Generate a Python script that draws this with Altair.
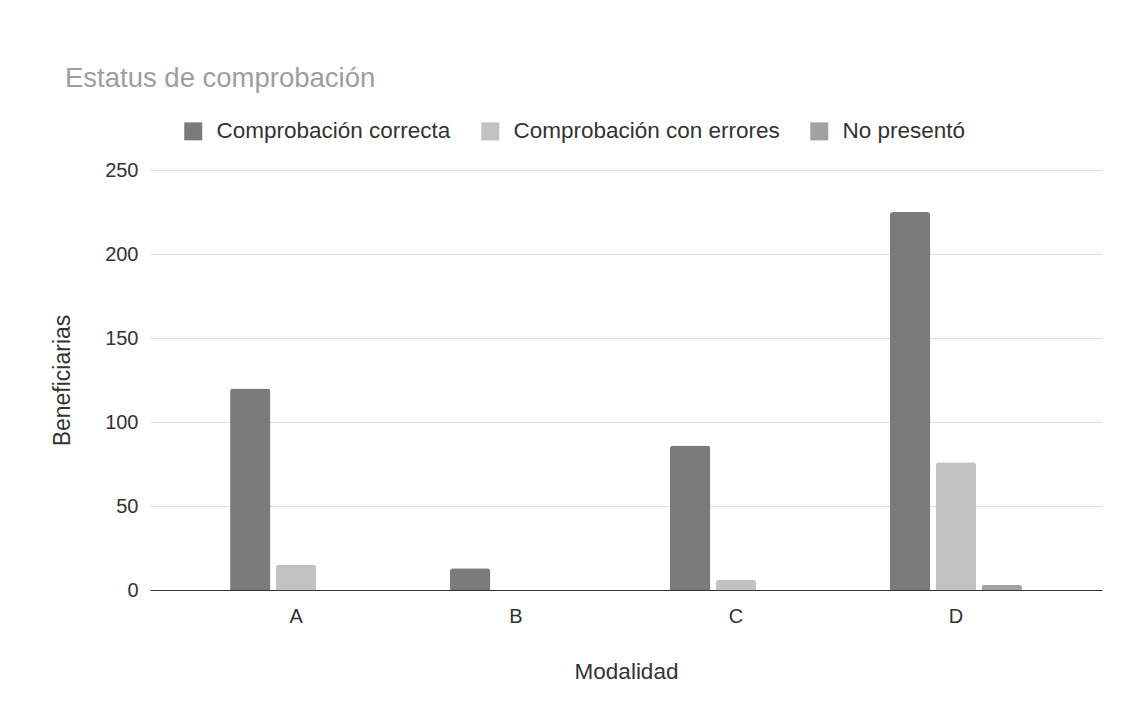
import altair as alt
import pandas as pd

categories = ["A", "B", "C", "D"]
series = ["Comprobación correcta", "Comprobación con errores", "No presentó"]
correcta = [120, 13, 86, 225]
errores = [15, 0, 6, 76]
no_presento = [0, 0, 0, 3]
colors = ["#7b7b7b", "#c2c2c2", "#a2a2a2"]
y_ticks = [0, 50, 100, 150, 200, 250]

rows = []
for i, c in enumerate(categories):
    for s, vals in zip(series, [correcta, errores, no_presento]):
        rows.append({"Modalidad": c, "Serie": s, "Beneficiarias": vals[i]})
df = pd.DataFrame(rows)

FONT = "Liberation Sans"

chart = alt.Chart(df).mark_bar(
    cornerRadiusTopLeft=3, cornerRadiusTopRight=3
).encode(
    x=alt.X("Modalidad:N", sort=categories,
            scale=alt.Scale(paddingInner=0.4, paddingOuter=0.364),
            axis=alt.Axis(title="Modalidad", labelAngle=0, ticks=False,
                          domainColor="#333333", domainWidth=1.2,
                          labelFontSize=20, labelColor="#333333", labelPadding=16,
                          labelFont=FONT, titleFont=FONT, titleFontSize=22.5,
                          titleFontWeight="normal", titleColor="#333333",
                          titlePadding=34)),
    xOffset=alt.XOffset("Serie:N", sort=series,
                        scale=alt.Scale(paddingInner=0.12)),
    y=alt.Y("Beneficiarias:Q",
            scale=alt.Scale(domain=[0, 250], nice=False),
            axis=alt.Axis(title="Beneficiarias", values=y_ticks, ticks=False,
                          domain=False, gridColor="#dedede",
                          labelFontSize=20, labelColor="#333333", labelPadding=12,
                          labelFont=FONT, titleFont=FONT, titleFontSize=23,
                          titleFontWeight="normal", titleColor="#333333",
                          titlePadding=30)),
    color=alt.Color("Serie:N", sort=series,
                    scale=alt.Scale(domain=series, range=colors),
                    legend=alt.Legend(title=None, orient="none", direction="horizontal",
                                      legendX=32, legendY=-50,
                                      symbolType="square", symbolSize=324,
                                      symbolStrokeWidth=0, labelLimit=400,
                                      labelFontSize=22.5, labelColor="#333333",
                                      labelFont=FONT, columnPadding=28,
                                      labelOffset=12)),
).properties(
    width=952, height=420,
    title=alt.TitleParams("Estatus de comprobación", anchor="start", frame="group",
                          fontSize=27.5, font=FONT, fontWeight="normal",
                          color="#9e9e9e", dx=-85, offset=28),
    autosize=alt.AutoSizeParams(type="none"),
    padding={"left": 142, "top": 162, "right": 16, "bottom": 117},
).configure_view(stroke=None)

chart.save("out.html", embed_options={"renderer": "svg", "actions": False})
